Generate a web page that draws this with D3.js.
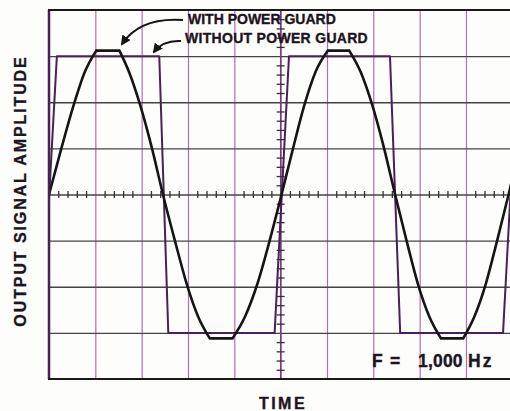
<!DOCTYPE html>
<html>
<head>
<meta charset="utf-8">
<script src="https://cdn.jsdelivr.net/npm/d3@7"></script>
<style>
  body { margin: 0; background: #fdfdfc; }
  svg { display: block; font-family: "Liberation Sans", Arial, sans-serif; }
</style>
</head>
<body>
<div id="app"></div>
<script>
// grid divisions (scope screen: 10 x 8)
const timeDivs = [0, 1, 2, 3, 4, 5, 6, 7, 8, 9, 10]
const ampDivs = [-4, -3, -2, -1, 0, 1, 2, 3, 4]
const minorTime = d3.range(0, 50).map(i => i / 5).filter(t => t % 1 !== 0)
const minorAmp = d3.range(-20, 21).map(i => i / 5).filter(v => v % 1 !== 0)

// without power guard (square wave), [time div, amplitude div]
const noGuard = [[-0.16, -3], [0.17, 3], [2.38, 3], [2.575, -3], [4.87, -3],
  [5.18, 3], [7.36, 3], [7.58, -3], [9.8, -3], [10.12, 3]]

// with power guard (clipped sine), arcs between the flat tops
const guardArcs = [
  [[0, 0], [0.27, 1.01], [0.53, 1.93], [0.77, 2.65], [1.02, 3.12]],
  [[1.52, 3.12], [1.73, 2.65], [1.97, 1.93], [2.22, 1.01], [2.46, 0],
   [2.72, -1.01], [2.97, -1.93], [3.22, -2.65], [3.47, -3.12]],
  [[3.96, -3.12], [4.23, -2.65], [4.5, -1.93], [4.76, -1.01], [5.02, 0],
   [5.27, 1.01], [5.51, 1.93], [5.75, 2.65], [6.02, 3.12]],
  [[6.48, 3.12], [6.73, 2.65], [6.98, 1.93], [7.23, 1.01], [7.47, 0],
   [7.72, -1.01], [7.96, -1.93], [8.21, -2.65], [8.46, -3.12]],
  [[8.94, -3.12], [9.18, -2.65], [9.43, -1.93], [9.67, -1.01], [9.92, 0],
   [10.16, 1.01]]
]

let width = 510, height = 411
let svg = d3.select("#app").append("svg")
    .attr("width", width)
    .attr("height", height)

let x = d3.scaleLinear().domain([0, 10]).range([49, 512.3])
let y = d3.scaleLinear().domain([-4, 4]).range([379, 10])

svg.append("defs").append("clipPath").attr("id", "plot")
  .append("rect")
    .attr("x", x(0)).attr("y", y(4))
    .attr("width", x(10) - x(0)).attr("height", y(-4) - y(4))

let arrow = svg.select("defs").append("marker")
    .attr("id", "head")
    .attr("viewBox", "0 0 10 10")
    .attr("refX", 8).attr("refY", 5)
    .attr("markerWidth", 5).attr("markerHeight", 5)
    .attr("markerUnits", "strokeWidth")
    .attr("orient", "auto")
arrow.append("path").attr("d", "M0,0 L10,5 L0,10 Z").attr("fill", "#151515")

// vertical grid (purple)
svg.append("g")
    .attr("transform", `translate(0,${y(-4)})`)
    .call(d3.axisBottom(x).tickValues(timeDivs.slice(1, -1)).tickSize(-(y(-4) - y(4))).tickFormat(""))
    .call(g => g.select(".domain").remove())
    .call(g => g.selectAll("line").attr("stroke", "#b070ad").attr("stroke-width", 1.2))

// horizontal grid (dark grey)
svg.append("g")
    .attr("transform", `translate(${x(0)},0)`)
    .call(d3.axisLeft(y).tickValues(ampDivs.slice(1, -1)).tickSize(-(x(10) - x(0))).tickFormat(""))
    .call(g => g.select(".domain").remove())
    .call(g => g.selectAll("line").attr("stroke", "#444").attr("stroke-width", 1.3))

// centre axes with minor ticks
svg.append("g")
    .attr("transform", `translate(0,${y(0) - 3.5})`)
    .call(d3.axisBottom(x).tickValues(minorTime).tickSize(7).tickFormat(""))
    .call(g => g.select(".domain").remove())
    .call(g => g.selectAll("line").attr("stroke", "#333").attr("stroke-width", 1.3))

svg.append("line")
    .attr("x1", x(5)).attr("x2", x(5))
    .attr("y1", y(4)).attr("y2", y(-4))
    .attr("stroke", "#7a3a82").attr("stroke-width", 1.4)

svg.append("g")
    .attr("transform", `translate(${x(5) - 4},0)`)
    .call(d3.axisRight(y).tickValues(minorAmp).tickSize(8).tickFormat(""))
    .call(g => g.select(".domain").remove())
    .call(g => g.selectAll("line").attr("stroke", "#333").attr("stroke-width", 1.3))

let plot = svg.append("g").attr("clip-path", "url(#plot)")

let line = d3.line().x(d => x(d[0])).y(d => y(d[1]))

plot.append("path")
    .attr("d", line(noGuard))
    .attr("fill", "none")
    .attr("stroke", "#4b1f58")
    .attr("stroke-width", 2)
    .attr("stroke-linejoin", "round")

// flats joined straight, arcs smooth
let smooth = d3.line().x(d => x(d[0])).y(d => y(d[1])).curve(d3.curveMonotoneX)
let guardPath = guardArcs.map(smooth).join("")
guardArcs.slice(1).forEach((a, i) => {
  let prev = guardArcs[i]
  guardPath += line([prev[prev.length - 1], a[0]])
})
plot.append("path")
    .attr("d", guardPath)
    .attr("fill", "none")
    .attr("stroke", "#151515")
    .attr("stroke-width", 2.6)
    .attr("stroke-linecap", "round")
    .attr("stroke-linejoin", "round")

// frame
svg.append("line")
    .attr("x1", x(0)).attr("x2", x(0)).attr("y1", y(4)).attr("y2", y(-4))
    .attr("stroke", "#4b1f58").attr("stroke-width", 2.5)
svg.append("line")
    .attr("x1", x(0) - 1).attr("x2", width).attr("y1", y(4)).attr("y2", y(4))
    .attr("stroke", "#1a1a1a").attr("stroke-width", 2.2)
svg.append("line")
    .attr("x1", x(0) - 1).attr("x2", width).attr("y1", y(-4)).attr("y2", y(-4))
    .attr("stroke", "#1a1a1a").attr("stroke-width", 2.2)

// legend + arrows
let ink = "#1c1420"
let bold = sel => sel.attr("font-weight", "bold").attr("fill", ink)
    .attr("stroke", ink).attr("stroke-width", 0.35)

svg.append("text").attr("x", 188).attr("y", 24)
    .attr("font-size", 14).call(bold)
    .text("WITH POWER GUARD")
svg.append("text").attr("x", 185).attr("y", 43)
    .attr("font-size", 14).call(bold)
    .attr("letter-spacing", 0.3)
    .text("WITHOUT POWER GUARD")

svg.append("path")
    .attr("d", "M183,20 Q140,17 122,44")
    .attr("fill", "none").attr("stroke", "#151515").attr("stroke-width", 2)
    .attr("marker-end", "url(#head)")
svg.append("path")
    .attr("d", "M181,41 Q163,40 154,52")
    .attr("fill", "none").attr("stroke", "#151515").attr("stroke-width", 2)
    .attr("marker-end", "url(#head)")

// frequency note
let note = svg.append("text").attr("y", 367)
    .attr("font-size", 17.5).call(bold)
note.append("tspan").attr("x", 372).text("F")
note.append("tspan").attr("x", 390).text("=")
note.append("tspan").attr("x", 418).attr("letter-spacing", 0.2).text("1,000")
note.append("tspan").attr("x", 468).attr("letter-spacing", 2).text("Hz")

// axis titles
svg.append("text")
    .attr("transform", "translate(26,191) rotate(-90)")
    .attr("text-anchor", "middle")
    .attr("font-size", 16).call(bold)
    .attr("letter-spacing", 1.9)
    .text("OUTPUT SIGNAL AMPLITUDE")
svg.append("text")
    .attr("x", 283).attr("y", 409)
    .attr("text-anchor", "middle")
    .attr("font-size", 16).call(bold)
    .attr("letter-spacing", 2.5)
    .text("TIME")
</script>
</body>
</html>
